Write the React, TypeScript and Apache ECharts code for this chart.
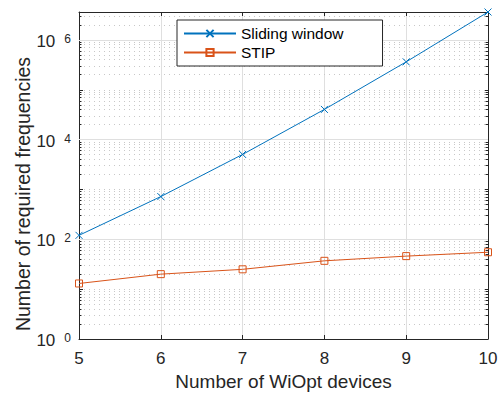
import React, { useEffect, useRef } from "react";
import * as echarts from "echarts";

const devices = [5, 6, 7, 8, 9, 10];
const slidingWindow = [120, 720, 5040, 40320, 362880, 3628800];
const stip = [13, 20, 25, 37, 46, 55];
const xTicks = [5, 6, 7, 8, 9, 10];
const yLabelExponents = [0, 2, 4, 6];
const yMin = 1;
const yMax = 3628800;
const seriesNames = ["Sliding window", "STIP"];

const FONT = "'Liberation Sans', Arial, Helvetica, sans-serif";
const AXIS = "#262626";
const MAJOR_GRID = "#dfdfdf";
const MINOR_GRID = "#c8c8c8";

export default function App() {
  const ref = useRef<HTMLDivElement>(null);

  useEffect(() => {
    if (!ref.current) return;
    const chart = echarts.init(ref.current, undefined, { renderer: "svg" });

    // minor (dotted) grid values: 2..9 x 10^k and the unlabeled decades
    const minorVals: number[] = [];
    for (let k = 0; k <= 6; k++) {
      const base = Math.pow(10, k);
      if (k > 0 && !yLabelExponents.includes(k)) minorVals.push(base);
      for (let m = 2; m <= 9; m++) {
        const v = m * base;
        if (v < yMax) minorVals.push(v);
      }
    }
    const majorVals = yLabelExponents.filter((e) => e > 0).map((e) => Math.pow(10, e));
    const xMin = xTicks[0];
    const xMax = xTicks[xTicks.length - 1];
    const tickLen = 0.03;

    const markData: any[] = [];
    majorVals.forEach((v) =>
      markData.push({ yAxis: v, lineStyle: { color: MAJOR_GRID, type: "solid", width: 1 } })
    );
    minorVals.forEach((v) =>
      markData.push({ yAxis: v, lineStyle: { color: MINOR_GRID, type: [1, 4], width: 1 } })
    );
    minorVals.forEach((v) => {
      markData.push([
        { coord: [xMin, v], lineStyle: { color: AXIS, type: "solid", width: 1 } },
        { coord: [xMin + tickLen, v] },
      ]);
      markData.push([
        { coord: [xMax - tickLen, v], lineStyle: { color: AXIS, type: "solid", width: 1 } },
        { coord: [xMax, v] },
      ]);
    });

    const yLabelFormatter = (v: number) => {
      const l = Math.log10(v);
      const e = Math.round(l);
      if (Math.abs(l - e) > 1e-6 || !yLabelExponents.includes(e)) return "";
      return `{b|10}{e|${e}}`;
    };

    const option: any = {
      animation: false,
      backgroundColor: "#ffffff",
      textStyle: { fontFamily: FONT },
      grid: {
        left: 79,
        right: 10,
        top: 12,
        bottom: 55,
        containLabel: false,
        outerBoundsMode: "none",
      },
      legend: {
        data: seriesNames,
        orient: "vertical",
        left: 177,
        top: 20,
        padding: [5, 39, 5, 6],
        itemWidth: 52,
        itemHeight: 9,
        itemGap: 2,
        borderColor: AXIS,
        borderWidth: 1,
        borderRadius: 0,
        backgroundColor: "#ffffff",
        selectedMode: false,
        textStyle: { fontSize: 15.5, color: "#000", fontFamily: FONT, lineHeight: 17 },
      },
      xAxis: [
        {
          type: "value",
          min: xMin,
          max: xMax,
          interval: 1,
          name: "Number of WiOpt devices",
          nameLocation: "middle",
          nameGap: 32,
          nameTextStyle: { fontSize: 19, color: AXIS, fontFamily: FONT },
          axisLine: { show: true, onZero: false, lineStyle: { color: AXIS, width: 1 } },
          axisTick: { show: true, inside: true, length: 4, lineStyle: { color: AXIS } },
          axisLabel: { fontSize: 17, color: AXIS, margin: 11, fontFamily: FONT },
          splitLine: { show: true, lineStyle: { color: MAJOR_GRID, width: 1 } },
        },
        {
          type: "value",
          position: "top",
          min: xMin,
          max: xMax,
          interval: 1,
          axisLine: { show: true, onZero: false, lineStyle: { color: AXIS, width: 1 } },
          axisTick: { show: true, inside: true, length: 4, lineStyle: { color: AXIS } },
          axisLabel: { show: false },
          splitLine: { show: false },
        },
      ],
      yAxis: [
        {
          type: "log",
          logBase: 10,
          min: yMin,
          max: yMax,
          axisLine: { show: true, onZero: false, lineStyle: { color: AXIS, width: 1 } },
          axisTick: { show: true, inside: true, length: 4, lineStyle: { color: AXIS } },
          splitLine: { show: false },
          axisLabel: {
            margin: 8,
            color: AXIS,
            formatter: yLabelFormatter,
            rich: {
              b: {
                fontSize: 17,
                lineHeight: 20,
                color: AXIS,
                fontFamily: FONT,
                verticalAlign: "bottom",
                padding: [6, 0, 0, 0],
              },
              e: {
                fontSize: 12,
                lineHeight: 12,
                color: AXIS,
                fontFamily: FONT,
                verticalAlign: "top",
                padding: [3, 0, 0, 9],
              },
            },
          },
        },
        {
          type: "log",
          logBase: 10,
          position: "right",
          min: yMin,
          max: yMax,
          axisLine: { show: true, onZero: false, lineStyle: { color: AXIS, width: 1 } },
          axisTick: { show: true, inside: true, length: 4, lineStyle: { color: AXIS } },
          axisLabel: { show: false },
          splitLine: { show: false },
        },
      ],
      graphic: [
        {
          type: "text",
          x: 23,
          y: 194,
          rotation: Math.PI / 2,
          style: {
            text: "Number of required frequencies",
            fontSize: 19.5,
            fontFamily: FONT,
            fill: AXIS,
            align: "center",
            verticalAlign: "middle",
          },
        },
      ],
      series: [
        {
          type: "line",
          name: "__grid",
          data: [],
          z: 1,
          silent: true,
          markLine: {
            silent: true,
            z: 1,
            symbol: "none",
            label: { show: false },
            emphasis: { disabled: true },
            data: markData,
          },
        },
        {
          type: "line",
          name: seriesNames[0],
          z: 10,
          data: devices.map((d, i) => [d, slidingWindow[i]]),
          symbol: "path://M0,0L10,10M10,0L0,10",
          symbolSize: 7,
          lineStyle: { color: "#0072BD", width: 1 },
          itemStyle: { color: "#0072BD", borderColor: "#0072BD", borderWidth: 1 },
          emphasis: { disabled: true },
        },
        {
          type: "line",
          name: seriesNames[1],
          z: 10,
          data: devices.map((d, i) => [d, stip[i]]),
          symbol: "rect",
          symbolSize: 7,
          lineStyle: { color: "#D95319", width: 1 },
          itemStyle: { color: "rgba(255,255,255,0)", borderColor: "#D95319", borderWidth: 1 },
          emphasis: { disabled: true },
        },
      ],
    };

    chart.setOption(option);
    return () => chart.dispose();
  }, []);

  return (
    <div
      ref={ref}
      style={{ position: "fixed", left: 0, top: 0, width: 498, height: 394 }}
    />
  );
}
